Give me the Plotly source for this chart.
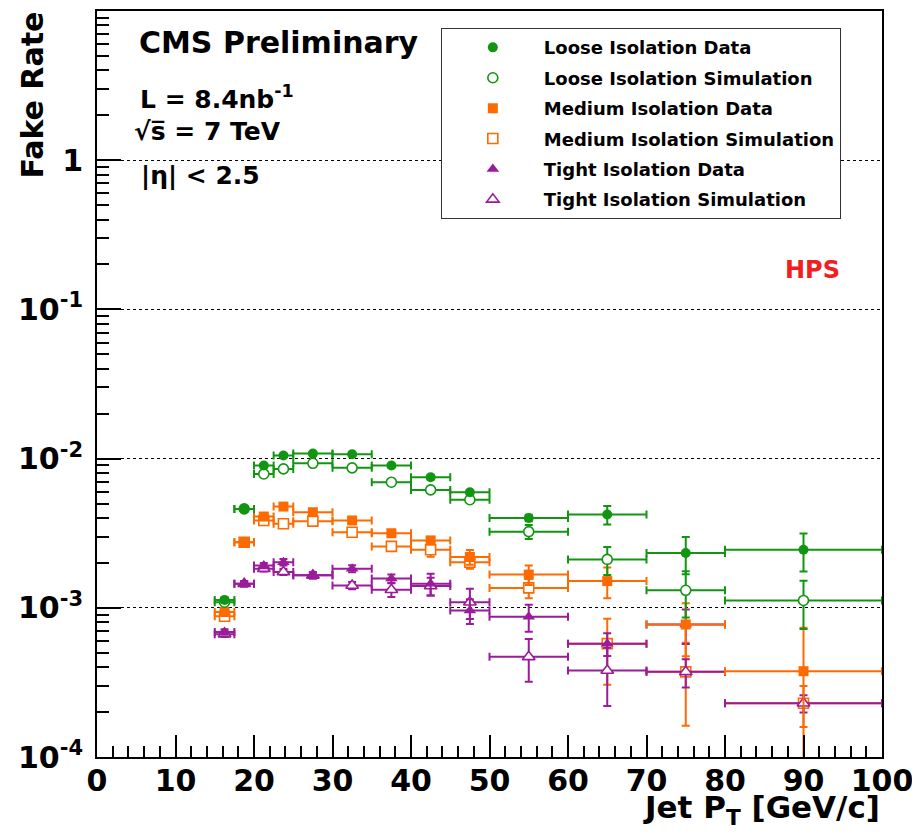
import plotly.graph_objects as go

# ---------------- data ----------------
bin_lo = [15, 17.5, 20, 22.5, 25, 30, 35, 40, 45, 50, 60, 70, 80]
bin_hi = [17.5, 20, 22.5, 25, 30, 35, 40, 45, 50, 60, 70, 80, 100]

loose_data = [1.13e-3, 4.60e-3, 8.98e-3, 1.05e-2, 1.08e-2, 1.07e-2, 8.98e-3, 7.50e-3, 5.95e-3, 4.00e-3, 4.22e-3, 2.33e-3, 2.45e-3]
loose_data_err = [0.04e-3, 0.12e-3, 0.25e-3, 0.30e-3, 0.30e-3, 0.30e-3, 0.25e-3, 0.25e-3, 0.20e-3, 0.20e-3, 0.60e-3, 0.65e-3, 0.70e-3]
loose_sim = [1.09e-3, 4.60e-3, 7.89e-3, 8.53e-3, 9.30e-3, 8.67e-3, 6.95e-3, 6.17e-3, 5.30e-3, 3.24e-3, 2.11e-3, 1.31e-3, 1.12e-3]
loose_sim_err = [0.04e-3, 0.12e-3, 0.20e-3, 0.20e-3, 0.20e-3, 0.20e-3, 0.20e-3, 0.20e-3, 0.20e-3, 0.35e-3, 0.45e-3, 0.45e-3, 0.40e-3]

medium_data = [0.937e-3, 2.75e-3, 4.09e-3, 4.77e-3, 4.37e-3, 3.85e-3, 3.16e-3, 2.83e-3, 2.19e-3, 1.67e-3, 1.51e-3, 0.773e-3, 0.376e-3]
medium_data_err = [0.04e-3, 0.10e-3, 0.15e-3, 0.18e-3, 0.15e-3, 0.15e-3, 0.13e-3, 0.15e-3, 0.25e-3, 0.25e-3, 0.35e-3, 0.30e-3, 0.36e-3]
medium_sim = [0.877e-3, 2.75e-3, 3.85e-3, 3.66e-3, 3.81e-3, 3.21e-3, 2.58e-3, 2.45e-3, 2.02e-3, 1.36e-3, 0.575e-3, 0.372e-3, 0.229e-3]
medium_sim_err = [0.04e-3, 0.10e-3, 0.15e-3, 0.15e-3, 0.12e-3, 0.12e-3, 0.12e-3, 0.25e-3, 0.19e-3, 0.20e-3, 0.27e-3, 0.21e-3, 0.07e-3]

tight_data = [0.689e-3, 1.45e-3, 1.92e-3, 2.02e-3, 1.65e-3, 1.83e-3, 1.57e-3, 1.45e-3, 0.96e-3, 0.87e-3, 0.575e-3, 0.773e-3, 0.0]
tight_data_err = [0.03e-3, 0.06e-3, 0.08e-3, 0.10e-3, 0.08e-3, 0.10e-3, 0.10e-3, 0.24e-3, 0.18e-3, 0.18e-3, 0.10e-3, 0.20e-3, 0.0]
tight_sim = [0.666e-3, 1.45e-3, 1.83e-3, 1.74e-3, 1.65e-3, 1.41e-3, 1.32e-3, 1.40e-3, 1.09e-3, 0.469e-3, 0.38e-3, 0.372e-3, 0.229e-3]
tight_sim_err = [0.03e-3, 0.06e-3, 0.08e-3, 0.08e-3, 0.08e-3, 0.08e-3, 0.14e-3, 0.19e-3, 0.25e-3, 0.15e-3, 0.16e-3, 0.08e-3, 0.03e-3]

x_tick_vals = [0, 10, 20, 30, 40, 50, 60, 70, 80, 90, 100]
x_tick_text = ["0", "10", "20", "30", "40", "50", "60", "70", "80", "90", "100"]
y_tick_vals = [1e-4, 1e-3, 1e-2, 1e-1, 1]
y_tick_text = ["10<sup>-4</sup>", "10<sup>-3</sup>", "10<sup>-2</sup>", "10<sup>-1</sup>", "1"]
y_minor_vals = [m * 10.0 ** e for e in range(-4, 1) for m in range(2, 10)]

# ---------------- styling ----------------
FONT = "DejaVu Sans"
GREEN = "#129612"
ORANGE = "#ff6a00"
PURPLE = "#9a1c9a"

x_center = [(a + b) / 2 for a, b in zip(bin_lo, bin_hi)]
x_half = [(b - a) / 2 for a, b in zip(bin_lo, bin_hi)]

fig = go.Figure()


def add_series(name, yvals, yerr, color, symbol, filled, size, rank):
    marker = dict(symbol=symbol, size=size)
    if filled:
        marker.update(color=color, line=dict(width=0, color=color))
    else:
        marker.update(color="white", line=dict(width=1.6, color=color))
    fig.add_trace(go.Scatter(
        x=x_center, y=yvals, mode="markers", name=name,
        marker=marker,
        error_x=dict(type="data", array=x_half, color=color, thickness=2, width=4),
        error_y=dict(type="data", array=yerr, color=color, thickness=2, width=4),
        legendgroup=name, legendrank=rank,
    ))


# drawing order (back to front)
add_series("Medium Isolation Simulation", medium_sim, medium_sim_err, ORANGE, "square", False, 10, 4)
add_series("Tight Isolation Simulation", tight_sim, tight_sim_err, PURPLE, "triangle-up", False, 11, 6)
add_series("Tight Isolation Data", tight_data, tight_data_err, PURPLE, "triangle-up", True, 11, 5)
add_series("Medium Isolation Data", medium_data, medium_data_err, ORANGE, "square", True, 10, 3)
add_series("Loose Isolation Simulation", loose_sim, loose_sim_err, GREEN, "circle", False, 10, 2)
add_series("Loose Isolation Data", loose_data, loose_data_err, GREEN, "circle", True, 10, 1)

axis_font = dict(family=FONT, size=30, color="black", weight="bold")

fig.update_layout(
    width=912, height=832,
    margin=dict(l=97, r=30, t=11, b=75, autoexpand=False),
    paper_bgcolor="white", plot_bgcolor="white",
    font=dict(family=FONT, color="black"),
    showlegend=True,
    legend=dict(
        x=0.438, y=0.977, xanchor="left", yanchor="top",
        bgcolor="white", bordercolor="#333333", borderwidth=1,
        font=dict(family=FONT, size=18, color="black", weight="bold"),
        itemwidth=92, tracegroupgap=4, traceorder="grouped",
    ),
    xaxis=dict(
        range=[0, 100], showline=True, linecolor="black", linewidth=2, mirror=True,
        tickmode="array", tickvals=x_tick_vals, ticktext=x_tick_text,
        ticks="inside", ticklen=22, tickwidth=1.5, tickcolor="black",
        minor=dict(tickmode="linear", ticks="inside", ticklen=11, dtick=2, tick0=0,
                   tickcolor="black", tickwidth=1.5, showgrid=False),
        showgrid=False, zeroline=False, tickfont=axis_font, ticklabelstandoff=-4,
        ticklabeloverflow="allow", automargin=False,
    ),
    yaxis=dict(
        type="log", range=[-4, 1], showline=True, linecolor="black", linewidth=2, mirror=True,
        tickmode="array", tickvals=y_tick_vals, ticktext=y_tick_text,
        ticks="inside", ticklen=24, tickwidth=1.5, tickcolor="black",
        minor=dict(tickmode="array", tickvals=y_minor_vals, ticks="inside", ticklen=12,
                   tickcolor="black", tickwidth=1.5, showgrid=False),
        showgrid=True, gridcolor="black", griddash="dot", gridwidth=1,
        zeroline=False, tickfont=axis_font, ticklabelstandoff=6, automargin=False,
    ),
)

ann_font = dict(family=FONT, color="black", weight="bold")
fig.add_annotation(text="CMS Preliminary", xref="paper", yref="paper", x=0.051, y=0.958,
                   xanchor="left", yanchor="middle", showarrow=False, font=dict(ann_font, size=30))
fig.add_annotation(text="L = 8.4nb<sup>-1</sup>", xref="paper", yref="paper", x=0.052, y=0.884,
                   xanchor="left", yanchor="middle", showarrow=False, font=dict(ann_font, size=25))
fig.add_annotation(text="√s\u0305 = 7 TeV", xref="paper", yref="paper",
                   x=0.045, y=0.839, xanchor="left", yanchor="middle", showarrow=False, font=dict(ann_font, size=25))
fig.add_annotation(text="|η| < 2.5", xref="paper", yref="paper", x=0.053, y=0.779,
                   xanchor="left", yanchor="middle", showarrow=False, font=dict(ann_font, size=25))
fig.add_annotation(text="HPS", xref="paper", yref="paper", x=0.911, y=0.653,
                   xanchor="center", yanchor="middle", showarrow=False,
                   font=dict(family=FONT, size=24, color="#f02020", weight="bold"))
fig.add_annotation(text="Fake Rate", xref="paper", yref="paper", x=-0.0815, y=1.0013, textangle=-90,
                   xanchor="center", yanchor="top", showarrow=False, font=dict(ann_font, size=30))
fig.add_annotation(text="Jet P<sub>T</sub> [GeV/c]", xref="paper", yref="paper", x=1.0, y=-0.1,
                   xanchor="right", yanchor="bottom", showarrow=False, font=dict(ann_font, size=31))

fig.write_html("out.html")
